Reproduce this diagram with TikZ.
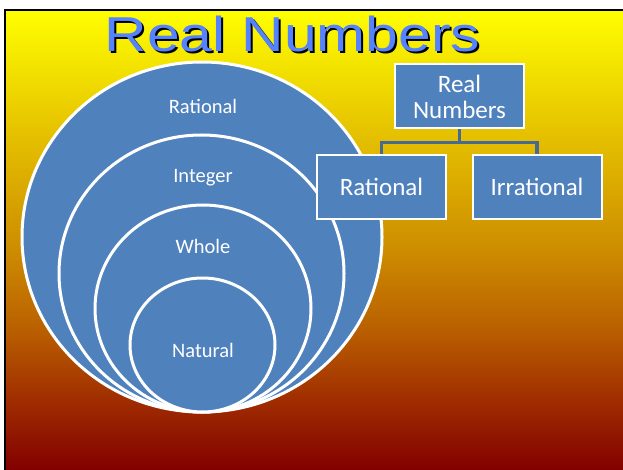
\documentclass[tikz,border=0pt]{standalone}
\usepackage{fontspec}
\setmainfont{Carlito}
\newfontfamily\titlefont{Liberation Sans}
\usetikzlibrary{shapes.geometric}
\definecolor{bgA}{RGB}{130,0,0}
\definecolor{bgB}{RGB}{160,45,0}
\definecolor{bgC}{RGB}{185,95,0}
\definecolor{bgD}{RGB}{205,140,0}
\definecolor{bgE}{RGB}{230,195,0}
\definecolor{bgF}{RGB}{255,255,0}
\definecolor{boxblue}{RGB}{79,129,189}
\definecolor{connblue}{RGB}{70,106,145}
\definecolor{titleblue}{RGB}{85,130,255}
\pgfdeclareverticalshading{slidebg}{100bp}{color(0bp)=(bgA); color(25bp)=(bgA); color(32.6bp)=(bgB); color(40.2bp)=(bgC); color(48.9bp)=(bgD); color(62bp)=(bgE); color(75bp)=(bgF); color(100bp)=(bgF)}
\tikzset{
  setring/.style={ellipse, draw=white, line width=3pt, fill=boxblue, inner sep=0pt},
  setlabel/.style={text=white, font=\fontsize{20.5}{24}\selectfont},
  treebox/.style={rectangle, draw=white, line width=2pt, fill=boxblue, text=white, minimum width=129pt, minimum height=64pt, inner sep=0pt, align=center, font=\fontsize{25}{28}\selectfont},
  treeline/.style={draw=connblue, line width=3.5pt},
  titletext/.style={font=\titlefont\fontsize{49}{49}\selectfont, xscale=1.2, anchor=base}
}
\begin{document}
\begin{tikzpicture}[x=1pt,y=-1pt]
\useasboundingbox (0,0) rectangle (623,470);
\fill[white] (0,0) rectangle (623,470);
\shade[shading=slidebg] (5,10) rectangle (623,470);
\draw[black, line width=2pt] (5,470) -- (5,10) -- (623,10);
% title with drop shadow
\node[titletext, text=black] (titleshadow) at (294.5,53.5) {Real Numbers};
\node[titletext, text=titleblue] (title) at (292.5,51.5) {Real Numbers};
% nested sets
\node[setring, minimum width=360pt, minimum height=350pt] (rat) at (202,237) {};
\node[setring, minimum width=285pt, minimum height=277pt] (int) at (201.5,273.5) {};
\node[setring, minimum width=216pt, minimum height=207pt] (who) at (203,308.5) {};
\node[setring, minimum width=145pt, minimum height=134pt] (nat) at (202.5,345) {};
\node[setlabel] (ratlbl) at (203,106) {Rational};
\node[setlabel] (intlbl) at (203,178) {Integer};
\node[setlabel] (wholbl) at (203,246) {Whole};
\node[setlabel] (natlbl) at (203,350) {Natural};
% tree
\node[treebox] (real) at (459.5,96.5) {Real\\[-2pt]Numbers};
\node[treebox] (rational) at (381.5,187) {Rational};
\node[treebox] (irrational) at (537,187) {Irrational};
\draw[treeline] (real.south) -- ++(0,13) -| (rational.north);
\draw[treeline] (real.south) -- ++(0,13) -| (irrational.north);
\end{tikzpicture}
\end{document}
